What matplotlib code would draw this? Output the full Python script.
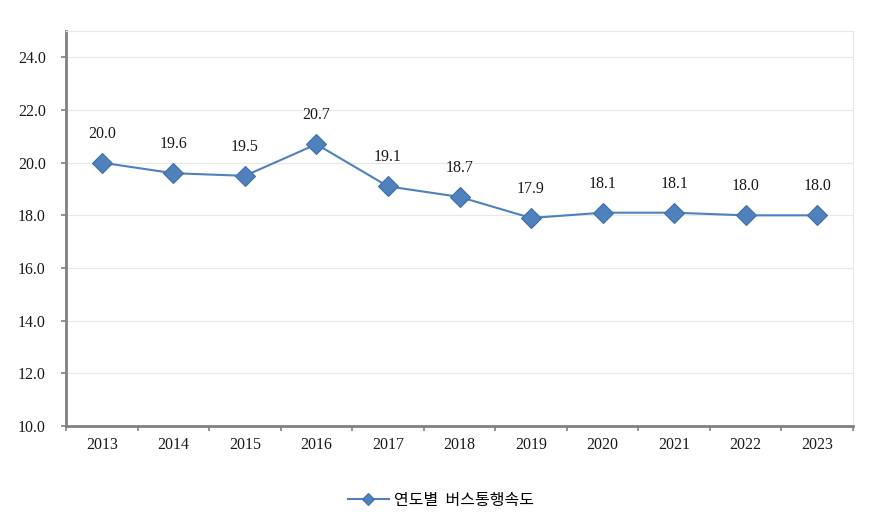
import matplotlib
matplotlib.use('Agg')
import matplotlib.pyplot as plt
import numpy as np

years = ['2013', '2014', '2015', '2016', '2017', '2018', '2019', '2020', '2021', '2022', '2023']
speed = [20.0, 19.6, 19.5, 20.7, 19.1, 18.7, 17.9, 18.1, 18.1, 18.0, 18.0]
series_name = '연도별  버스통행속도'

plt.rcParams['font.family'] = ['Liberation Serif', 'Noto Sans CJK KR']

fig = plt.figure(figsize=(8.71, 5.23), dpi=100)
ax = fig.add_axes([66/871, 1 - 426/523, (853-66)/871, (426-31)/523])

x = np.arange(len(years))
ax.plot(x, speed, color='#4F81BD', lw=1.5, marker='D', ms=10.5,
        mfc='#4F81BD', mec='#3F6FA8', mew=0.8, label=series_name)

for xi, v in zip(x, speed):
    ax.annotate(f'{v:.1f}', (xi, v), xytext=(0, 21), textcoords='offset points',
                ha='center', va='center', fontsize=11.5, color='#1a1a1a')

ax.set_xlim(-0.5, len(years) - 0.5)
ax.set_ylim(10, 25)
ax.set_yticks(np.arange(10, 25, 2))
ax.set_yticklabels([f'{t:.1f}' for t in np.arange(10, 25, 2)])
ax.set_xticks(x)
ax.set_xticklabels(years)
ax.set_xticks(np.arange(-0.5, len(years), 1), minor=True)
ax.tick_params(axis='x', which='major', length=0, pad=8, labelsize=11.5, labelcolor='#1a1a1a')
ax.tick_params(axis='x', which='minor', length=3.5, width=1.2, color='#808080', direction='out')
ax.tick_params(axis='y', length=3.5, width=1.2, color='#808080', pad=11, labelsize=11.5, labelcolor='#1a1a1a')

ax.grid(axis='y', color='#E8E8E8', lw=0.9)
ax.set_axisbelow(True)
for s in ['left', 'bottom']:
    ax.spines[s].set_color('#808080')
    ax.spines[s].set_linewidth(2)
for s in ['top', 'right']:
    ax.spines[s].set_color('#E8E8E8')
    ax.spines[s].set_linewidth(0.9)

leg = fig.legend(loc='center', bbox_to_anchor=(0.506, 1 - 500/523), frameon=False,
                 prop={'family': ['Noto Sans CJK KR'], 'size': 11.5},
                 handlelength=2.6, handletextpad=0.3, markerscale=0.6)

fig.savefig('out.png', dpi=100, facecolor='white')
